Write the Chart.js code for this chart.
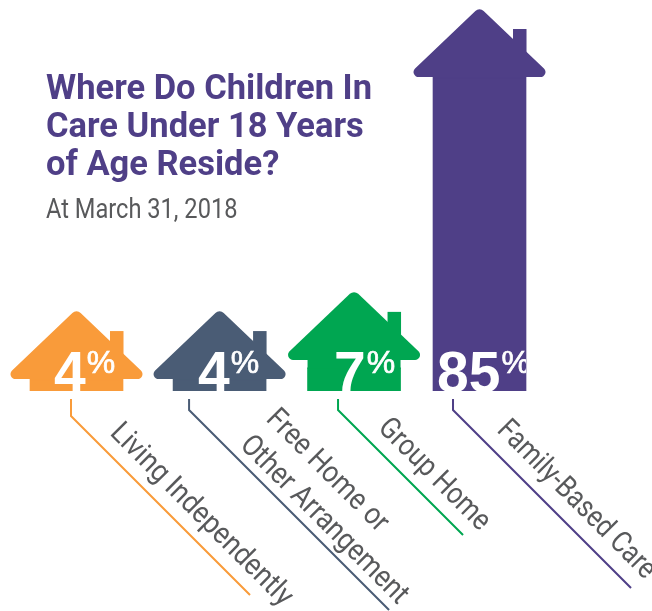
<!DOCTYPE html>
<html>
<head>
<meta charset="utf-8">
<script src="https://cdn.jsdelivr.net/npm/chart.js@4"></script>
<style>
  body { margin: 0; background: #fff; }
  #wrap { position: relative; width: 652px; height: 611px; overflow: hidden; }
  canvas { position: absolute; left: 0; top: 0; }
  #title { position: absolute; left: 46px; top: 68px; font: 700 34.5px/38px Roboto, sans-serif; color: #4f3f87; white-space: nowrap; }
  #sub { position: absolute; left: 46px; top: 193.5px; font: 400 27px/30px Roboto, sans-serif; color: #58595b; white-space: nowrap; transform: scaleX(0.875); transform-origin: left top; }
</style>
</head>
<body>
<div id="wrap">
  <canvas id="houses" width="652" height="611"></canvas>
  <div id="title">Where Do Children In<br>Care Under 18 Years<br>of Age Reside?</div>
  <div id="sub">At March 31, 2018</div>
</div>
<script>
const categories = [["Living Independently"], ["Free Home or", "Other Arrangement"], ["Group Home"], ["Family-Based Care"]];
const values = [4, 4, 7, 85];
const colors = ["#f99b3a", "#4a5c75", "#00a651", "#4f3f87"];

// the houses are not evenly spaced in the original, so x is a linear axis
const slots = [0, 1.065, 2.066, 3];

// hand tuned decoration, px relative to the bar centre
const roofLift = [0, 0, 8, 0];
const valueDx = [-22.5, -21.5, -20, -42.5];
const leaderDx = [-5.5, -30.5, -16, -26.5];
const leaderDrop = [17, 11, 11, 11];
const leaderRun = [179, 200, 125, 178];
const labelDx = [38, 76, 39, 43];
const labelDy = [43, 29, 38, 40];
const labelSqueeze = [0.895, 0.885, 0.86, 0.85];

function roofPath(ctx, cx, eaveY) {
  const w = 73.5, h = 70;
  ctx.beginPath();
  ctx.moveTo(cx, eaveY);
  ctx.arcTo(cx - w, eaveY, cx, eaveY - h, 5);
  ctx.arcTo(cx, eaveY - h, cx + w, eaveY, 6);
  ctx.arcTo(cx + w, eaveY, cx, eaveY, 5);
  ctx.closePath();
  ctx.fill();
}

const housePlugin = {
  id: "housePlugin",
  afterDatasetsDraw(chart) {
    const ctx = chart.ctx;
    const bars = chart.getDatasetMeta(0).data;
    const baseY = chart.scales.y.getPixelForValue(chart.scales.y.min);
    bars.forEach((bar, i) => {
      const eaveY = bar.y - roofLift[i];
      ctx.save();
      ctx.fillStyle = colors[i];
      // wall up to the eaves, chimney, then roof
      ctx.fillRect(bar.x - 46.5, eaveY, 93, bar.y - eaveY + 1);
      ctx.fillRect(bar.x + 33.5, eaveY - 48, 13.5, 40);
      roofPath(ctx, bar.x, eaveY);

      // value, cut off at the bottom of the wall like the original
      ctx.beginPath();
      ctx.rect(bar.x - 46.5, baseY - 60, 93, 60);
      ctx.clip();
      ctx.fillStyle = "#fff";
      ctx.strokeStyle = "#fff";
      ctx.lineWidth = 0.7;
      ctx.textBaseline = "alphabetic";
      ctx.font = "700 57px 'Liberation Sans', Arial, sans-serif";
      const txt = String(values[i]);
      const x0 = bar.x + valueDx[i];
      ctx.fillText(txt, x0, baseY + 1);
      const w = ctx.measureText(txt).width;
      ctx.font = "400 32px 'Liberation Sans', Arial, sans-serif";
      ctx.fillText("%", x0 + w + 1, baseY - 18);
      ctx.strokeText("%", x0 + w + 1, baseY - 18);
      ctx.restore();

      // leader line
      const lx = bar.x + leaderDx[i];
      const ly = baseY + 10;
      ctx.save();
      ctx.strokeStyle = colors[i];
      ctx.lineWidth = 2;
      ctx.beginPath();
      ctx.moveTo(lx, ly - 2);
      ctx.lineTo(lx, ly + leaderDrop[i] - 2);
      ctx.lineTo(lx + leaderRun[i], ly + leaderDrop[i] - 2 + leaderRun[i]);
      ctx.stroke();
      ctx.restore();

      // category label, rotated and squeezed to look condensed
      ctx.save();
      ctx.translate(lx + labelDx[i], baseY + labelDy[i]);
      ctx.rotate(Math.PI / 4);
      ctx.scale(labelSqueeze[i], 1);
      ctx.fillStyle = "#58595b";
      ctx.font = "400 30px Roboto, sans-serif";
      ctx.textBaseline = "alphabetic";
      categories[i].forEach((line, n) => ctx.fillText(line, 0, n * 37));
      ctx.restore();
    });
  }
};

new Chart(document.getElementById("houses").getContext("2d"), {
  type: "bar",
  data: {
    datasets: [{
      data: values.map((v, i) => ({ x: slots[i], y: v })),
      backgroundColor: colors,
      borderWidth: 0,
      barThickness: 93
    }]
  },
  options: {
    responsive: false,
    animation: false,
    layout: { padding: { bottom: 220 } },
    scales: {
      x: { type: "linear", display: false, offset: false, min: -0.5695, max: 4.284 },
      y: { display: false, min: 0.8, max: 105.65 }
    },
    plugins: { legend: { display: false }, tooltip: { enabled: false } }
  },
  plugins: [housePlugin]
});
</script>
</body>
</html>
